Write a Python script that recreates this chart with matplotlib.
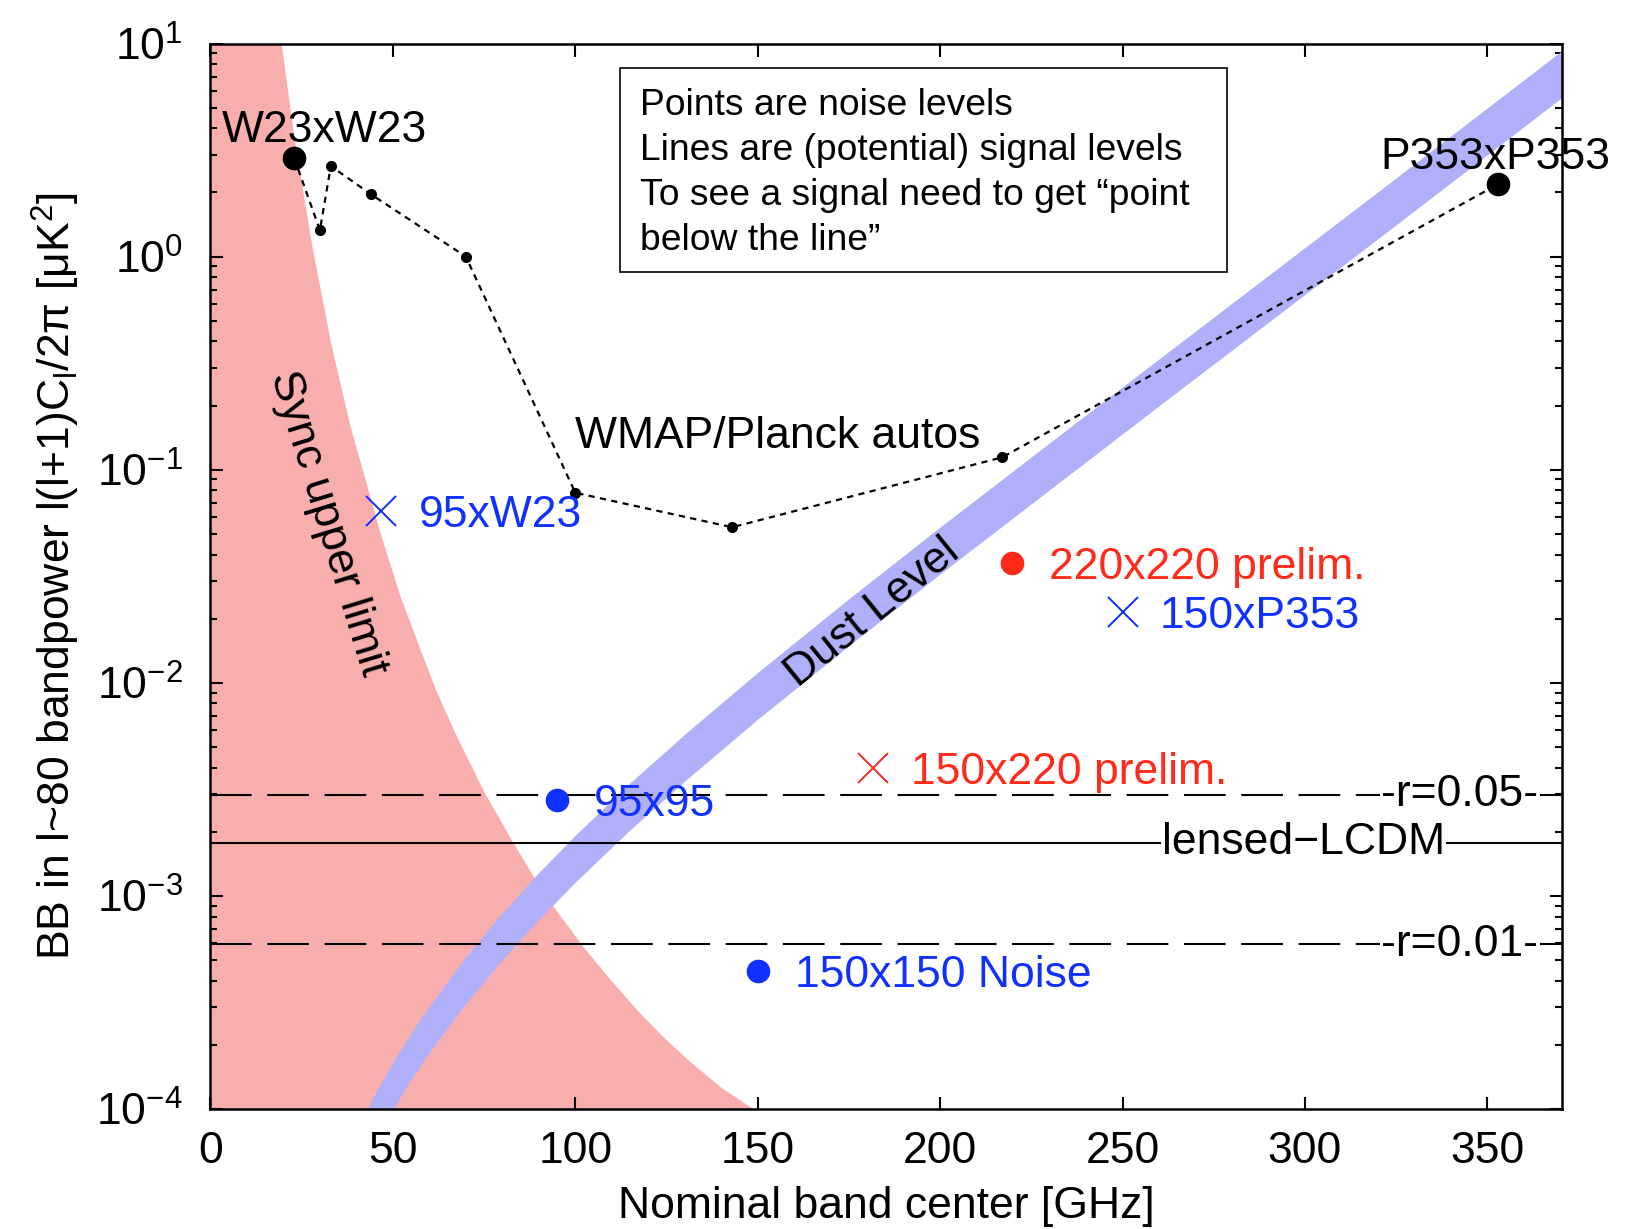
import matplotlib
matplotlib.use("Agg")
import matplotlib.pyplot as plt
from matplotlib.patches import Rectangle

plt.rcParams["font.family"] = ["Liberation Sans", "DejaVu Sans"]
plt.rcParams["mathtext.fontset"] = "custom"
plt.rcParams["mathtext.rm"] = "Liberation Sans"
plt.rcParams["mathtext.it"] = "Liberation Sans:italic"
plt.rcParams["mathtext.default"] = "regular"

# WMAP / Planck auto-spectrum noise levels
autos_freq = [23, 30, 33, 44, 70, 100, 143, 217, 353]
autos_noise = [2.89, 1.33, 2.66, 1.96, 1.0, 0.078, 0.0537, 0.1143, 2.19]

# BICEP/Keck style noise points: (label, freq, level, colour, marker)
pt_labels = ["95xW23", "95x95", "150x150 Noise", "220x220 prelim.", "150x220 prelim.", "150xP353"]
pt_freq = [46.8, 94.9, 150, 219.6, 181.7, 250]
pt_level = [0.0643, 0.00282, 0.000446, 0.0364, 0.0040, 0.0214]
pt_kind = ["x", "o", "o", "o", "x", "x"]
pt_color = ["blue", "blue", "blue", "red", "red", "blue"]

# synchrotron upper limit edge
sync_freq = [19.5, 23, 27.8, 33, 38.3, 46.5, 52, 57.5, 62, 67.5, 75.3, 83, 89,
             94.9, 101.8, 109, 116.9, 124, 130.6, 140, 148.8]
sync_limit = [10.0, 3.63, 1.148, 0.398, 0.162, 0.0513, 0.0257, 0.01445, 0.00912,
              0.00562, 0.00302, 0.00178, 0.001202, 0.000851, 0.000589, 0.000417,
              0.000292, 0.000219, 0.000172, 0.000126, 0.0001]

# dust band: upper and lower edges
dust_freq = [40, 45, 50, 55, 60, 70, 80, 90, 100, 115, 130, 150, 175, 200,
             230, 260, 290, 320, 350, 372]
dust_hi = [7.98e-5, 1.172e-4, 1.660e-4, 2.28e-4, 3.05e-4, 5.19e-4, 8.34e-4, 1.288e-3,
           1.928e-3, 3.39e-3, 5.74e-3, 0.01119, 0.02483, 0.05383, 0.1337, 0.3311,
           0.8166, 2.014, 4.989, 9.70]
dust_lo = [4.81e-5, 7.06e-5, 1.0e-4, 1.374e-4, 1.841e-4, 3.13e-4, 5.02e-4, 7.76e-4,
           1.161e-3, 2.042e-3, 3.46e-3, 6.75e-3, 0.01496, 0.03243, 0.0805, 0.1995,
           0.492, 1.213, 3.006, 5.85]

# signal reference levels
r005_level = 0.00298
r001_level = 0.000593
lcdm_level = 0.00178

box_lines = [
    "Points are noise levels",
    "Lines are (potential) signal levels",
    "To see a signal need to get \u201cpoint",
    "below the line\u201d",
]

COLORS = {"blue": "#1030ff", "red": "#ff2a1a"}
FS = 32

fig = plt.figure(figsize=(16.25, 12.29), dpi=100)
ax = fig.add_axes([0.1295, 0.0976, 0.8316, 0.867])
ax.set_yscale("log")
ax.set_xlim(0, 370.4)
ax.set_ylim(1e-4, 10)

# sync region: everything left of the edge
ax.fill([0, 0] + sync_freq, [1e-4, 10] + sync_limit, color="#f9aeae", lw=0, zorder=1)
ax.fill_between(dust_freq, dust_lo, dust_hi, color="#b0b0fa", lw=0, zorder=2)

dash_kw = dict(color="black", lw=1.5, dashes=(20, 7.5), zorder=3)
ax.axhline(r005_level, **dash_kw)
ax.axhline(r001_level, **dash_kw)
ax.axhline(lcdm_level, color="black", lw=1.5, zorder=3)

label_box = dict(facecolor="white", edgecolor="none", pad=1.0)
ax.text(342.5, r005_level, "-r=0.05-", fontsize=FS, ha="center", va="center", bbox=label_box, zorder=4)
ax.text(342.5, r001_level, "-r=0.01-", fontsize=FS, ha="center", va="center", bbox=label_box, zorder=4)
ax.text(299.5, lcdm_level, "lensed\u2212LCDM", fontsize=FS, ha="center", va="center",
        bbox=dict(facecolor="white", edgecolor="none", pad=0.5), zorder=4)

ax.plot(autos_freq, autos_noise, color="black", lw=1.6, dashes=(2.8, 2.4),
        marker="o", ms=7, zorder=5)
ax.plot([autos_freq[0], autos_freq[-1]], [autos_noise[0], autos_noise[-1]], "o",
        color="black", ms=16, zorder=6)
ax.annotate("W23xW23", (autos_freq[0], autos_noise[0]), xytext=(22, 12),
            textcoords="offset points", ha="center", va="baseline", fontsize=FS, zorder=7)
ax.annotate("P353xP353", (autos_freq[-1], autos_noise[-1]), xytext=(-2, 11),
            textcoords="offset points", ha="center", va="baseline", fontsize=FS, zorder=7)
ax.text(100, 0.127, "WMAP/Planck autos", fontsize=FS, ha="left", va="baseline", zorder=7)

for label, f, lev, kind, col in zip(pt_labels, pt_freq, pt_level, pt_kind, pt_color):
    c = COLORS[col]
    if kind == "x":
        ax.plot(f, lev, "x", color=c, ms=22, mew=1.4, zorder=6)
    else:
        ax.plot(f, lev, "o", color=c, ms=16, zorder=6)
    ax.annotate(label, (f, lev), xytext=(27, -11.5), textcoords="offset points",
                ha="left", va="baseline", color=c, fontsize=FS, zorder=7)

ax.text(32.2, 0.056, "Sync upper limit", fontsize=FS, rotation=-73,
        rotation_mode="anchor", ha="center", va="center", zorder=7)
ax.text(181.5, 0.0214, "Dust Level", fontsize=FS, rotation=39,
        rotation_mode="anchor", ha="center", va="center", zorder=7)

# explanatory box
ax.add_patch(Rectangle((0.303, 0.786), 0.449, 0.1906, transform=ax.transAxes,
                       facecolor="white", edgecolor="black", lw=1.2, zorder=8))
for i, line in enumerate(box_lines):
    ax.text(0.318, 0.9329 - 0.0421 * i, line, transform=ax.transAxes,
            fontsize=26.8, ha="left", va="baseline", zorder=9)

ax.set_xticks(range(0, 351, 50))
ax.tick_params(which="both", direction="in", top=True, right=True, labelsize=FS, width=1.5)
ax.tick_params(which="major", length=9)
ax.tick_params(which="minor", length=5)
ax.tick_params(axis="x", pad=16)
ax.tick_params(axis="y", pad=20)
for s in ax.spines.values():
    s.set_linewidth(1.8)

ax.set_xlabel("Nominal band center [GHz]", fontsize=FS, labelpad=10)
ax.set_ylabel("BB in l~80 bandpower l(l+1)C$_{l}$/2\u03c0 [\u03bcK$^{2}$]", fontsize=FS, labelpad=10)

fig.savefig("out.png", dpi=100)
